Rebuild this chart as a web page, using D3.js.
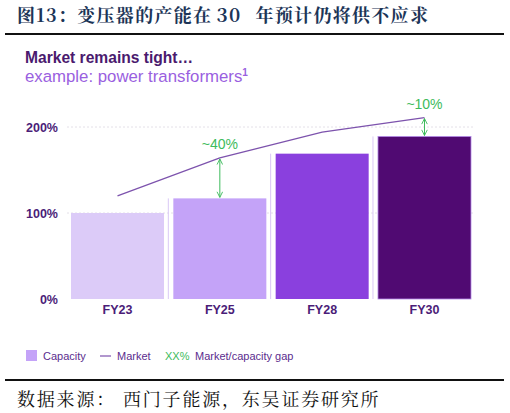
<!DOCTYPE html>
<html>
<head>
<meta charset="utf-8">
<script src="https://cdn.jsdelivr.net/npm/d3@7"></script>
<style>
  body { margin: 0; background: #fff; }
  svg { display: block; }
</style>
</head>
<body>
<div id="chart"></div>
<script>
// data
const years = ["FY23", "FY25", "FY28", "FY30"];
const capacity = [100, 117, 169, 189];      // % of FY23 capacity
const market = [120, 164, 194, 211];        // market demand, %
const barColors = ["#dccbf8", "#c4a3f8", "#8a40de", "#500a72"];
const gaps = [{ year: "FY25", label: "~40%" }, { year: "FY30", label: "~10%" }];
const yTicks = [0, 100, 200];

const W = 510, H = 413;
const latin = "'Liberation Sans', Arial, sans-serif";
const cjk = "'Noto Serif CJK SC', 'Noto Sans CJK SC', serif";
const purpleDark = "#4b1d78";
const green = "#3dbb5c";

const svg = d3.select("#chart").append("svg")
  .attr("width", W)
  .attr("height", H);

// header
const title = svg.append("text")
  .attr("x", 17).attr("y", 22)
  .style("font-family", cjk)
  .style("font-size", "18px")
  .style("font-weight", "bold")
  .style("letter-spacing", "1.3px")
  .style("fill", "#1c3557");
title.append("tspan").text("图13：");
title.append("tspan").attr("dx", 0).text("变压器的产能在");
title.append("tspan").attr("dx", 4).style("font-size", "19px").text("30");
title.append("tspan").attr("dx", 14).text("年预计仍将供不应求");

svg.append("line")
  .attr("x1", 5).attr("x2", 504)
  .attr("y1", 34).attr("y2", 34)
  .attr("stroke", "#111").attr("stroke-width", 2);

svg.append("text")
  .attr("x", 25).attr("y", 63)
  .style("font-family", latin)
  .style("font-size", "15.6px")
  .style("font-weight", "bold")
  .style("fill", "#4a1a6e")
  .text("Market remains tight…");

const sub = svg.append("text")
  .attr("x", 25).attr("y", 82)
  .style("font-family", latin)
  .style("font-size", "16.8px")
  .style("fill", "#9a5fe0")
  .text("example: power transformers");
sub.append("tspan")
  .attr("dy", -6)
  .style("font-size", "10px")
  .style("font-weight", "bold")
  .text("1");

// scales
const x = d3.scaleBand()
  .domain(years)
  .range([71, 471])
  .paddingInner(0.091)
  .paddingOuter(0);

const y = d3.scaleLinear()
  .domain([0, 200])
  .range([299, 127]);

// gridlines
svg.append("g")
  .selectAll("line")
  .data(yTicks.filter(d => d > 0))
  .join("line")
  .attr("x1", 67).attr("x2", 475)
  .attr("y1", d => y(d)).attr("y2", d => y(d))
  .attr("stroke", "#e4e0e8")
  .attr("stroke-dasharray", "2,2");

// y axis labels
const yAxis = d3.axisLeft(y)
  .tickValues(yTicks)
  .tickFormat(d => d + "%")
  .tickSize(0)
  .tickPadding(0);

svg.append("g")
  .attr("transform", "translate(58,0)")
  .call(yAxis)
  .call(g => g.select(".domain").remove())
  .selectAll("text")
  .style("font-family", latin)
  .style("font-size", "12.5px")
  .style("font-weight", "bold")
  .style("fill", purpleDark);

// thin separators to the left of each later bar
svg.append("g")
  .selectAll("line")
  .data(years.slice(1))
  .join("line")
  .attr("x1", d => x(d) - 5).attr("x2", d => x(d) - 5)
  .attr("y1", (d, i) => y(capacity[i + 1]))
  .attr("y2", y(0))
  .attr("stroke", "#d9c8f5")
  .attr("stroke-width", 1);

// capacity bars
svg.append("g")
  .selectAll("rect")
  .data(years)
  .join("rect")
  .attr("x", d => x(d))
  .attr("y", (d, i) => y(capacity[i]))
  .attr("width", x.bandwidth())
  .attr("height", (d, i) => y(0) - y(capacity[i]))
  .attr("fill", (d, i) => barColors[i])
  .attr("stroke", (d, i) => i === 3 ? "#b48be8" : "none")
  .attr("stroke-width", 0.8);

// x axis labels
const xAxis = d3.axisBottom(x).tickSize(0).tickPadding(0);
svg.append("g")
  .attr("transform", "translate(0,303)")
  .call(xAxis)
  .call(g => g.select(".domain").remove())
  .selectAll("text")
  .attr("dy", "0.9em")
  .style("font-family", latin)
  .style("font-size", "12.5px")
  .style("font-weight", "bold")
  .style("fill", purpleDark);

// market line
const line = d3.line()
  .x((d, i) => x(years[i]) + x.bandwidth() / 2)
  .y(d => y(d));

svg.append("path")
  .datum(market)
  .attr("d", line)
  .attr("fill", "none")
  .attr("stroke", "#7d53ad")
  .attr("stroke-width", 1.3);

// gap arrows
svg.append("defs").append("marker")
  .attr("id", "head")
  .attr("viewBox", "0 0 10 10")
  .attr("refX", 9).attr("refY", 5)
  .attr("markerWidth", 7).attr("markerHeight", 7)
  .attr("orient", "auto-start-reverse")
  .append("path")
  .attr("d", "M1,1 L9,5 L1,9")
  .attr("fill", "none")
  .attr("stroke", green)
  .attr("stroke-width", 1.3);

gaps.forEach(g => {
  const i = years.indexOf(g.year);
  const cx = x(g.year) + x.bandwidth() / 2;
  svg.append("line")
    .attr("x1", cx).attr("x2", cx)
    .attr("y1", y(market[i]) + 1)
    .attr("y2", y(capacity[i]) - 1)
    .attr("stroke", green)
    .attr("stroke-width", 1)
    .attr("marker-start", "url(#head)")
    .attr("marker-end", "url(#head)");
  svg.append("text")
    .attr("x", cx)
    .attr("y", y(market[i]) - 9)
    .attr("text-anchor", "middle")
    .style("font-family", latin)
    .style("font-size", "14px")
    .style("fill", green)
    .text(g.label);
});

// legend
const lg = svg.append("g")
  .attr("transform", "translate(0,356)")
  .style("font-family", latin)
  .style("font-size", "11px");

lg.append("rect")
  .attr("x", 26).attr("y", -6)
  .attr("width", 11).attr("height", 11)
  .attr("fill", "#c4a3f8");
lg.append("text").attr("x", 43).attr("y", 4)
  .style("fill", "#5b2d8e").text("Capacity");
lg.append("line")
  .attr("x1", 100).attr("x2", 111)
  .attr("y1", 0).attr("y2", 0)
  .attr("stroke", "#7d53ad").attr("stroke-width", 1.2);
lg.append("text").attr("x", 117).attr("y", 4)
  .style("fill", "#5b2d8e").text("Market");
lg.append("text").attr("x", 165).attr("y", 4)
  .style("fill", green).text("XX%");
lg.append("text").attr("x", 195).attr("y", 4)
  .style("fill", "#5b2d8e").text("Market/capacity gap");

// footer
svg.append("line")
  .attr("x1", 5).attr("x2", 504)
  .attr("y1", 380).attr("y2", 380)
  .attr("stroke", "#111").attr("stroke-width", 2);

const src = svg.append("text")
  .attr("y", 406)
  .style("font-family", cjk)
  .style("font-size", "18px")
  .style("letter-spacing", "1.8px")
  .style("fill", "#111");
src.append("tspan").attr("x", 17).text("数据来源：");
src.append("tspan").attr("x", 123).text("西门子能源，东吴证券研究所");
</script>
</body>
</html>
